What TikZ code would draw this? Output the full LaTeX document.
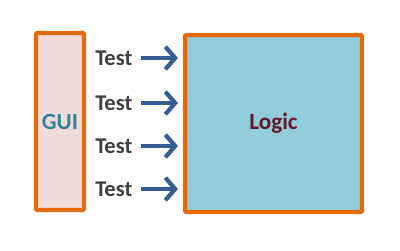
\documentclass[tikz,border=0pt]{standalone}
\usepackage{fontspec}
\setmainfont{Carlito}
\usetikzlibrary{arrows.meta}
\definecolor{borange}{RGB}{228,108,10}
\definecolor{guifill}{RGB}{242,220,219}
\definecolor{logicfill}{RGB}{146,205,220}
\definecolor{guitext}{RGB}{49,132,155}
\definecolor{logictext}{RGB}{99,26,40}
\definecolor{testtext}{RGB}{64,64,64}
\definecolor{arrowblue}{RGB}{52,94,145}
\begin{document}
\begin{tikzpicture}[x=0.025cm,y=-0.025cm,
  box/.style={draw=borange,line width=2.9pt,rounded corners=0.8pt,inner sep=0pt,
    font=\fontsize{16.5}{18}\selectfont\bfseries},
  testlbl/.style={text=testtext,font=\fontsize{16}{18}\selectfont\bfseries,inner sep=0pt,anchor=west},
  arr/.style={draw=arrowblue,line width=3pt,
    -{Straight Barb[length=7pt,width=16pt,line width=3pt]}}]
\useasboundingbox (0,0) rectangle (400,250);
\node[box,fill=guifill,text=guitext,minimum width=48*0.025cm,minimum height=177*0.025cm] (gui) at (60,121.5) {GUI};
\node[box,fill=logicfill,text=logictext,minimum width=177*0.025cm,minimum height=177*0.025cm] (logic) at (273.5,123.5) {Logic};
\foreach \i/\y in {1/58,2/103,3/146,4/189}{
  \node[testlbl] (t\i) at (95,\y) {Test};
  \coordinate (e\i) at (178,\y);
  \draw[arr] ([xshift=6pt]t\i.east) -- (e\i);
}
\end{tikzpicture}
\end{document}
